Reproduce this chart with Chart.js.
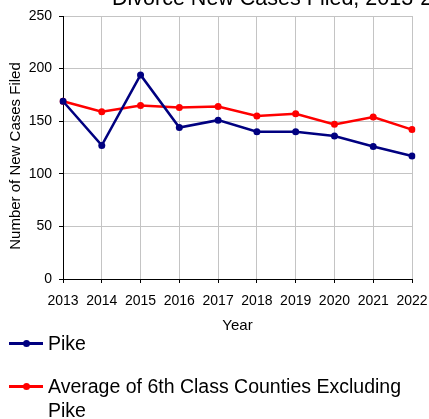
<!DOCTYPE html>
<html>
<head>
<meta charset="utf-8">
<script src="https://cdn.jsdelivr.net/npm/chart.js@4.4.1/dist/chart.umd.min.js"></script>
<style>
  html, body { margin: 0; padding: 0; background: #fff; overflow: hidden; }
  #wrap { position: absolute; left: 0; top: 0; width: 429px; height: 335px; }
  .legend { position: absolute; left: 0; top: 331px; width: 429px; font-family: "Liberation Sans", Arial, sans-serif; font-size: 19.5px; color: #000; }
  .item { position: absolute; left: 0; width: 429px; }
  .sym { position: absolute; left: 9px; width: 34px; height: 3px; }
  .sym::after { content: ""; position: absolute; left: 14px; top: -2px; width: 7px; height: 7px; border-radius: 50%; background: inherit; }
  .txt { position: absolute; left: 48px; line-height: 24px; width: 360px; }
</style>
</head>
<body>
<div id="wrap"><canvas id="c"></canvas></div>
<div class="legend" id="legend"></div>
<script>
const years = ["2013","2014","2015","2016","2017","2018","2019","2020","2021","2022"];
const pikeValues = [169, 127, 194, 144, 151, 140, 140, 136, 126, 117];
const avgValues = [169, 159, 165, 163, 164, 155, 157, 147, 154, 142];
const seriesNames = ["Pike", "Average of 6th Class Counties Excluding Pike"];
const seriesColors = ["#000080", "#ff0000"];
const chartTitle = "Divorce New Cases Filed, 2013-2022";
const xTitle = "Year";
const yTitle = "Number of New Cases Filed";

const FAMILY = '"Liberation Sans", Arial, sans-serif';

const textPlugin = {
  id: 'extraText',
  afterDraw(chart) {
    const ctx = chart.ctx;
    ctx.save();
    ctx.fillStyle = '#000';
    // clipped chart title
    ctx.font = '21.5px ' + FAMILY;
    ctx.textAlign = 'left';
    ctx.textBaseline = 'alphabetic';
    ctx.fillText(chartTitle, 112, 5);
    // y axis title
    ctx.font = '15px ' + FAMILY;
    ctx.translate(16, 156);
    ctx.rotate(-Math.PI / 2);
    ctx.textAlign = 'center';
    ctx.textBaseline = 'middle';
    ctx.fillText(yTitle, 0, 0);
    ctx.restore();
  }
};

const font = { family: FAMILY, size: 14 };

new Chart(document.getElementById('c'), {
  type: 'line',
  data: {
    labels: years,
    datasets: [
      { label: seriesNames[0], data: pikeValues, borderColor: seriesColors[0], backgroundColor: seriesColors[0],
        borderWidth: 2.5, pointRadius: 3.5, pointHoverRadius: 3.5, pointBorderWidth: 0, tension: 0 },
      { label: seriesNames[1], data: avgValues, borderColor: seriesColors[1], backgroundColor: seriesColors[1],
        borderWidth: 2.5, pointRadius: 3.5, pointHoverRadius: 3.5, pointBorderWidth: 0, tension: 0 }
    ]
  },
  options: {
    responsive: true,
    maintainAspectRatio: false,
    animation: false,
    devicePixelRatio: 1,
    layout: { padding: { top: 16, right: 17, left: 0, bottom: 0 } },
    plugins: { legend: { display: false }, tooltip: { enabled: false }, title: { display: false } },
    scales: {
      x: {
        offset: false,
        grid: { color: '#c4c4c4', lineWidth: 1, tickColor: '#000', tickLength: 4 },
        border: { color: '#000', width: 1 },
        ticks: { color: '#000', font: font, padding: 10, maxRotation: 0, autoSkip: false },
        title: { display: true, text: xTitle, color: '#000', font: { family: FAMILY, size: 15 }, padding: { top: 0, bottom: 0 } },
        afterFit(s) { s.height = 56; s.paddingRight = 0; s.paddingLeft = 0; }
      },
      y: {
        min: 0, max: 250,
        ticks: { stepSize: 50, color: '#000', font: font, padding: 7 },
        grid: { color: '#c4c4c4', lineWidth: 1, tickColor: '#000', tickLength: 4 },
        border: { color: '#000', width: 1 },
        title: { display: false },
        afterFit(s) { s.width = 63; s.paddingTop = 0; s.paddingBottom = 0; }
      }
    }
  },
  plugins: [textPlugin]
});

// HTML legend
const legend = document.getElementById('legend');
const tops = [0, 43];
seriesNames.forEach((name, i) => {
  const item = document.createElement('div');
  item.className = 'item';
  item.style.top = tops[i] + 'px';
  const sym = document.createElement('div');
  sym.className = 'sym';
  sym.style.background = seriesColors[i];
  sym.style.top = '11px';
  const txt = document.createElement('div');
  txt.className = 'txt';
  txt.textContent = name;
  item.appendChild(sym);
  item.appendChild(txt);
  legend.appendChild(item);
});
</script>
</body>
</html>
